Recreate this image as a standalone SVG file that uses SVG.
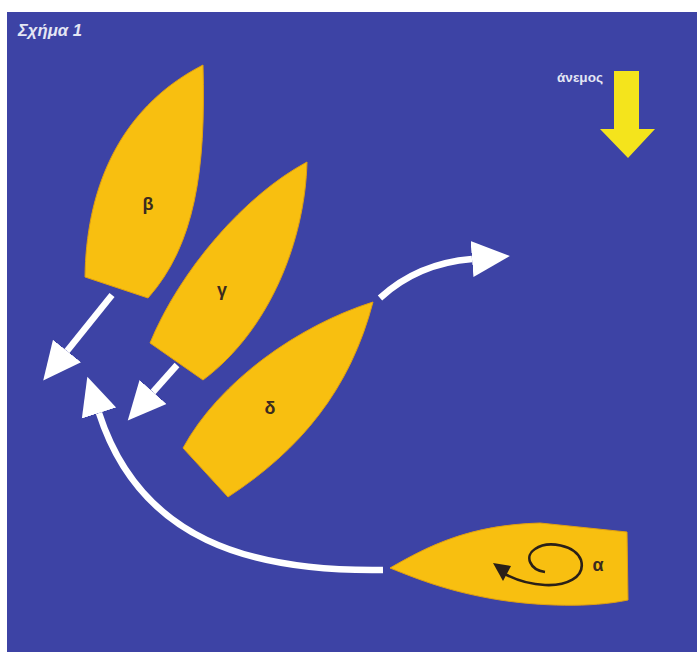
<svg xmlns="http://www.w3.org/2000/svg" width="700" height="652" viewBox="0 0 700 652">
  <defs>
    <marker id="head" markerUnits="userSpaceOnUse" markerWidth="40" markerHeight="40" viewBox="0 -20 40 40" refX="0" refY="0" orient="auto">
      <path d="M0,-18 L38,0 L0,18 Z" fill="#ffffff"/>
    </marker>
    <style>
      .boat { fill: #f8bf10; stroke: #e0a010; stroke-width: 1; }
      .lbl { font-family: "Liberation Sans", "DejaVu Sans", sans-serif; font-weight: bold; font-size: 18px; fill: #3b2b1f; text-anchor: middle; }
      .move { fill: none; stroke: #ffffff; stroke-width: 6.5; marker-end: url(#head); }
      .cap { font-family: "Liberation Sans", "DejaVu Sans", sans-serif; font-weight: bold; fill: #e4e6f4; }
    </style>
  </defs>
  <rect x="0" y="0" width="700" height="652" fill="#ffffff"/>
  <rect x="7" y="12" width="690" height="640" fill="#3d43a5"/>

  <text class="cap" x="18" y="36" font-size="16" font-style="italic" textLength="64" lengthAdjust="spacingAndGlyphs">Σχήμα 1</text>

  <g id="wind">
    <polygon points="614,71 639,71 639,129 655,129 628,158 600,129 614,129" fill="#f4e41c"/>
    <text class="cap" x="557" y="82" font-size="12" textLength="46" lengthAdjust="spacingAndGlyphs">άνεμος</text>
  </g>

  <g id="boat-beta">
    <path class="boat" d="M203,65 C206,170 195,245 148,298 L85,277 C86,195 115,110 203,65 Z"/>
    <text class="lbl" x="148" y="210">β</text>
  </g>

  <g id="boat-gamma">
    <path class="boat" d="M307,162 C305,240 270,330 203,380 L150,343 C180,270 245,195 307,162 Z"/>
    <text class="lbl" x="222" y="296">γ</text>
  </g>

  <g id="boat-delta">
    <path class="boat" d="M373,302 C300,325 220,380 183,448 L228,497 C300,450 350,390 373,302 Z"/>
    <text class="lbl" x="270" y="414">δ</text>
  </g>

  <g id="boat-alpha">
    <path class="boat" d="M390,568 C430,545 470,525 540,523 L627,532 L628,600 C590,608 540,606 500,600 C450,592 420,580 390,568 Z"/>
    <path d="M545,572 C530,570 524,556 535,549 C548,540 575,545 581,560 C586,578 565,586 545,585 C525,584 512,578 503,573" fill="none" stroke="#2a2018" stroke-width="2.6"/>
    <polygon points="493,563 511,566 503,581" fill="#2a2018"/>
    <text class="lbl" x="598" y="571">α</text>
  </g>

  <g id="connectors">
    <path class="move" d="M112,295 L67,351"/>
    <path class="move" d="M177,365 L153,392"/>
    <path class="move" d="M383,570 C250,572 140,540 99,413"/>
    <path class="move" d="M380,298 C405,275 435,262 472,259"/>
  </g>
</svg>
